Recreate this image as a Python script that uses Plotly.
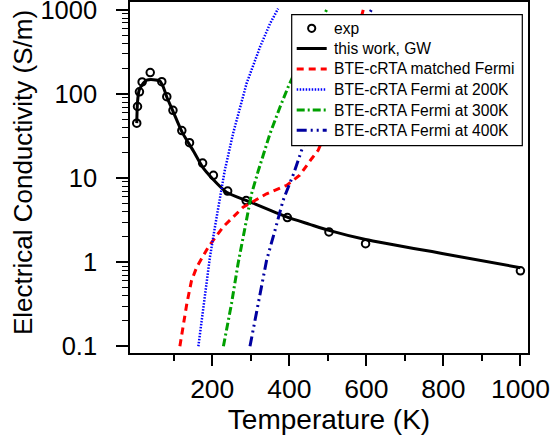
import plotly.graph_objects as go

# ---- data ----
exp_T = [4, 6, 11, 18, 39, 69, 82, 98, 121, 141, 175, 203, 240, 288, 395, 503, 598, 1000]
exp_sigma = [45, 71, 106, 139, 180, 140, 93, 64, 36.7, 26.4, 15.1, 10.8, 7.0, 5.4, 3.39, 2.29, 1.66, 0.79]

gw_T = [4, 6, 10, 17, 30, 47, 64, 73, 82, 99, 122, 151, 175, 200, 237, 298, 393, 453, 503, 598, 800, 1000]
gw_sigma = [45, 80, 110, 127, 146, 148, 143, 121, 92, 61, 35, 21, 13.5, 9.9, 6.8, 5.2, 3.45, 2.82, 2.39, 1.86, 1.26, 0.86]

matched_T = [116, 134, 146, 160, 190, 228, 280, 341, 393, 427, 458, 475, 500, 530, 560, 592]
matched_sigma = [0.1, 0.32, 0.6, 0.88, 1.52, 2.62, 4.5, 6.5, 8.2, 10.8, 17, 21.4, 40, 100, 290, 1000]

f200_T = [164, 181, 194, 207, 224, 232, 254, 289, 324, 350, 371]
f200_sigma = [0.1, 0.385, 1.15, 2.62, 7.2, 12, 33.8, 133, 362, 687, 1036]

f300_T = [229, 250, 267, 285, 302, 319, 350, 376, 397, 430, 465, 497]
f300_sigma = [0.1, 0.32, 0.96, 2.62, 6.5, 12, 33.8, 70, 121, 260, 550, 1000]

f400_T = [298, 319, 341, 363, 384, 412, 432, 470, 520, 570, 613]
f400_sigma = [0.1, 0.32, 1.05, 2.4, 5.45, 11.5, 21.4, 60, 170, 430, 1000]

x_ticks = [200, 400, 600, 800, 1000]
x_minor = [100, 300, 500, 700, 900]
y_ticks = [0.1, 1, 10, 100, 1000]
y_ticktext = ["0.1", "1", "10", "100", "1000"]
y_minor = [m * d for d in [0.1, 1, 10, 100] for m in range(2, 10)]

series_names = ["exp", "this work, GW", "BTE-cRTA matched Fermi", "BTE-cRTA Fermi at 200K",
                "BTE-cRTA Fermi at 300K", "BTE-cRTA Fermi at 400K"]
x_title = "Temperature (K)"
y_title = "Electrical Conductivity (S/m)"

FONT = "Liberation Sans, Arial, Helvetica, sans-serif"

W, H = 554, 435
ML, MR, MT, MB = 130, 26, 2, 82
PW, PH = W - ML - MR, H - MT - MB


def px_x(px):
    return (px - ML) / PW


def px_y(py):
    return (H - MB - py) / PH


styles = [
    None,
    dict(color="black", width=3),
    dict(color="#ff0000", width=3, dash="7px,5px"),
    dict(color="#0000ff", width=2.5, dash="1.5px,1.5px"),
    dict(color="#00a000", width=3, dash="8px,3px,2px,3px"),
    dict(color="#0000a0", width=3, dash="10px,4px,2px,4px,2px,4px"),
]

fig = go.Figure()
fig.add_trace(go.Scatter(x=exp_T, y=exp_sigma, mode="markers", name=series_names[0],
                         marker=dict(symbol="circle-open", size=7.5, color="black",
                                     line=dict(width=2, color="black"))))
fig.add_trace(go.Scatter(x=gw_T, y=gw_sigma, mode="lines", name=series_names[1],
                         line=dict(styles[1], shape="spline", smoothing=0.6)))
fig.add_trace(go.Scatter(x=matched_T, y=matched_sigma, mode="lines", name=series_names[2],
                         line=styles[2]))
fig.add_trace(go.Scatter(x=f200_T, y=f200_sigma, mode="lines", name=series_names[3],
                         line=styles[3]))
fig.add_trace(go.Scatter(x=f300_T, y=f300_sigma, mode="lines", name=series_names[4],
                         line=styles[4]))
fig.add_trace(go.Scatter(x=f400_T, y=f400_sigma, mode="lines", name=series_names[5],
                         line=styles[5]))

# ---- legend box drawn with shapes + annotations (to match row spacing) ----
box_l, box_r, box_t, box_b = 291.7, 522.3, 14.7, 145.7
row_y = [28.3, 48.5, 69.0, 89.5, 110.0, 130.3]
sym_x0, sym_x1, text_x = 296.7, 326.7, 331.5

shapes = [dict(type="rect", xref="paper", yref="paper", layer="above",
               x0=px_x(box_l), x1=px_x(box_r), y0=px_y(box_b), y1=px_y(box_t),
               fillcolor="white", line=dict(color="black", width=1.2))]
for i, ry in enumerate(row_y):
    if styles[i] is None:
        cx, r = (sym_x0 + sym_x1) / 2, 3.6
        shapes.append(dict(type="circle", xref="paper", yref="paper", layer="above",
                           x0=px_x(cx - r), x1=px_x(cx + r), y0=px_y(ry + r), y1=px_y(ry - r),
                           line=dict(color="black", width=2)))
    else:
        shapes.append(dict(type="line", xref="paper", yref="paper", layer="above",
                           x0=px_x(sym_x0), x1=px_x(sym_x1), y0=px_y(ry), y1=px_y(ry),
                           line=styles[i]))

annotations = [dict(text=name, xref="paper", yref="paper", x=px_x(text_x), y=px_y(ry),
                    xanchor="left", yanchor="middle", showarrow=False,
                    font=dict(size=15.6, family=FONT, color="black"))
               for name, ry in zip(series_names, row_y)]
annotations.append(dict(text=y_title, xref="paper", yref="paper", x=px_x(23), y=px_y(173),
                        xanchor="center", yanchor="middle", textangle=-90, showarrow=False,
                        font=dict(size=26, family=FONT, color="black")))

fig.update_layout(
    width=W, height=H,
    margin=dict(l=ML, r=MR, t=MT, b=MB, pad=0),
    paper_bgcolor="white", plot_bgcolor="white",
    font=dict(family=FONT, color="black"),
    showlegend=False,
    shapes=shapes,
    annotations=annotations,
    xaxis=dict(range=[-13.5, 1019.7], showline=True, linecolor="black", linewidth=1.5,
               mirror=True, showgrid=False, zeroline=False, automargin=False,
               ticks="outside", ticklen=11, tickwidth=1.5, tickcolor="black",
               tickmode="array", tickvals=x_ticks, tickfont=dict(size=26.5),
               minor=dict(ticks="outside", ticklen=6, tickwidth=1.5, tickcolor="black",
                          tickmode="array", tickvals=x_minor, showgrid=False),
               title=dict(text=x_title, font=dict(size=28), standoff=4)),
    yaxis=dict(type="log", range=[-1.08, 3.094], showline=True, linecolor="black", linewidth=1.5,
               mirror=True, showgrid=False, zeroline=False, automargin=False,
               ticks="outside", ticklen=12, tickwidth=1.5, tickcolor="black",
               tickmode="array", tickvals=y_ticks, ticktext=y_ticktext, tickfont=dict(size=25.5),
               ticklabelstandoff=14, ticklabeloverflow="allow",
               minor=dict(ticks="outside", ticklen=6, tickwidth=1.2, tickcolor="black",
                          tickmode="array", tickvals=y_minor, showgrid=False)),
)

fig.write_html("out.html", config={"displayModeBar": False},
               post_script="document.body.style.margin='0px';document.body.style.overflow='hidden';")
